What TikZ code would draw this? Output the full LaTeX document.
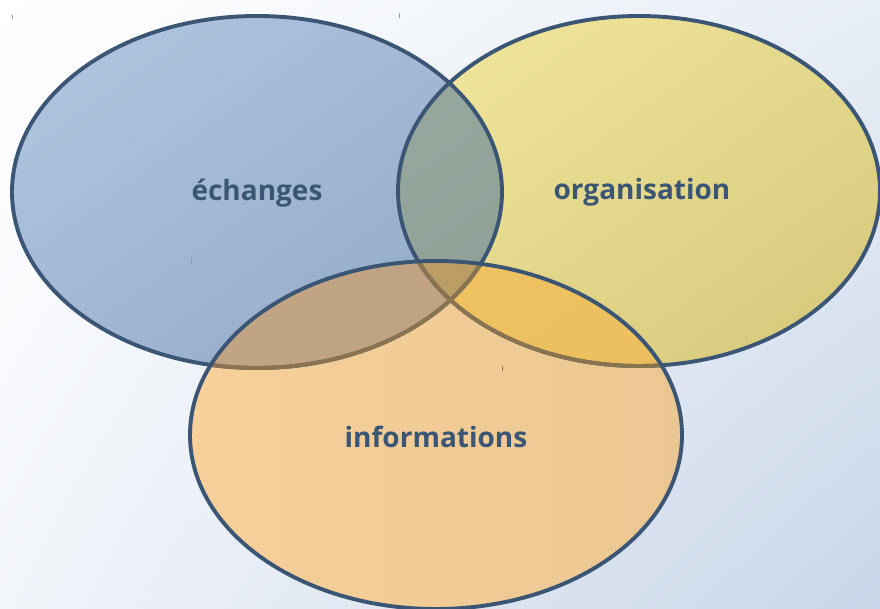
\documentclass[tikz,border=0pt]{standalone}
\usepackage{fontspec}
\setmainfont{Open Sans}
\usetikzlibrary{shadings}
\definecolor{bordc}{HTML}{3B5674}
\definecolor{brownb}{HTML}{8A7450}
\definecolor{bgA}{HTML}{FFFFFF}
\definecolor{bgB}{HTML}{C9D6E9}
\definecolor{bgC}{HTML}{E8EEF6}
\definecolor{bgD}{HTML}{F2F5FA}
\definecolor{blueA}{HTML}{B2C7E1}
\definecolor{blueB}{HTML}{91A7C8}
\definecolor{yelA}{HTML}{F2E89E}
\definecolor{yelB}{HTML}{D5C778}
\definecolor{oraA}{HTML}{F7D09A}
\definecolor{oraB}{HTML}{EAC792}
\definecolor{byA}{HTML}{98AAA0}
\definecolor{byB}{HTML}{85968E}
\definecolor{boA}{HTML}{C2A585}
\definecolor{boB}{HTML}{B89E7E}
\definecolor{yoA}{HTML}{F0C466}
\definecolor{yoB}{HTML}{E9BC58}
\definecolor{byo}{HTML}{BA9C64}
\tikzset{
  lbl/.style={font=\fontsize{28}{33}\selectfont\bfseries, text=bordc, inner sep=0pt},
  rim/.style={draw=bordc, line width=3.9pt},
  tick/.style={draw=bordc!60, line width=1pt},
  grad/.style 2 args={upper left=#1, lower right=#2, upper right=#1!50!#2, lower left=#1!50!#2},
}
\def\elA{(257,192) ellipse [x radius=245pt, y radius=176pt]}
\def\elB{(639,191) ellipse [x radius=241pt, y radius=175pt]}
\def\elC{(436,435) ellipse [x radius=246pt, y radius=174pt]}
\begin{document}
\begin{tikzpicture}[x=1pt,y=-1pt]
\useasboundingbox (0,0) rectangle (880,609);
\shade[upper left=bgA, lower right=bgB, upper right=bgC, lower left=bgD] (0,0) rectangle (880,609);
% fills
\shade[grad={blueA}{blueB}] \elA;
\shade[grad={yelA}{yelB}] \elB;
\shade[upper left=oraA, lower left=oraA, upper right=oraB, lower right=oraB] \elC;
% pairwise intersections
\begin{scope}
  \clip \elA;
  \shade[grad={byA}{byB}] \elB;
\end{scope}
\begin{scope}
  \clip \elA;
  \shade[grad={boA}{boB}] \elC;
\end{scope}
\begin{scope}
  \clip \elB;
  \shade[grad={yoA}{yoB}] \elC;
\end{scope}
\begin{scope}
  \clip \elA; \clip \elB;
  \fill[byo] \elC;
\end{scope}
% rims of A and B
\draw[rim] \elA;
\draw[rim] \elB;
% parts of rims under C
\begin{scope}
  \clip \elC;
  \draw[draw=brownb, line width=3.9pt] \elA;
  \draw[draw=brownb, line width=3.9pt] \elB;
\end{scope}
\draw[rim] \elC;
% tiny marks
\draw[tick] (12,15) -- (12,19);
\draw[tick] (399,13) -- (399,18);
\draw[tick] (191,258) -- (191,264);
\draw[draw=brownb, line width=1pt] (502,366) -- (502,371);
% labels
\node[lbl] (ech) at (257,193) {échanges};
\node[lbl] (org) at (642,192) {organisation};
\node[lbl] (inf) at (436,437) {informations};
\end{tikzpicture}
\end{document}
